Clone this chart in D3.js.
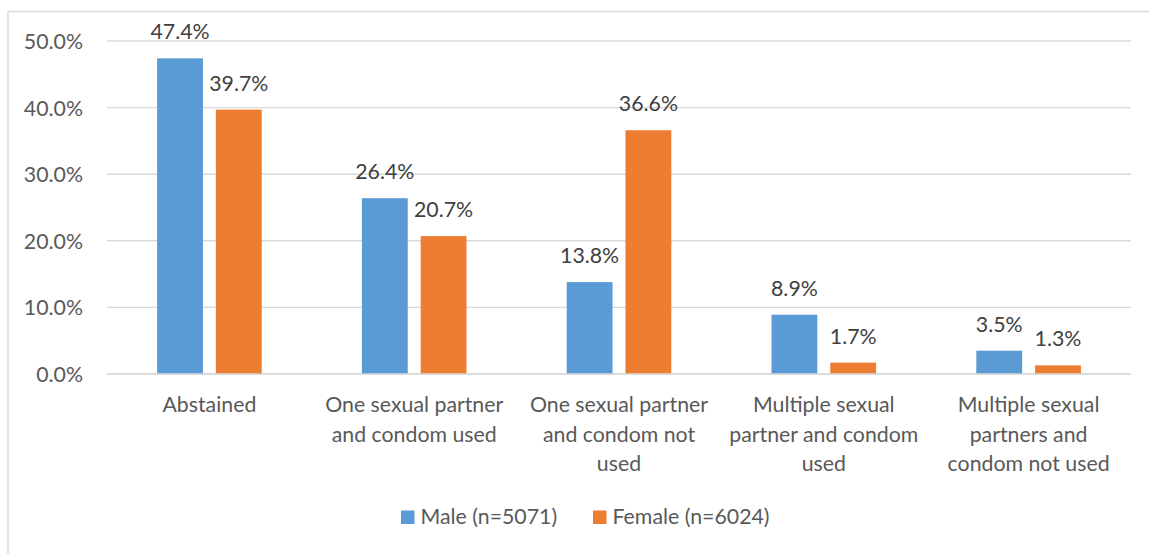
<!DOCTYPE html>
<html>
<head>
<meta charset="utf-8">
<script src="https://cdn.jsdelivr.net/npm/d3@7"></script>
<style>
  html, body { margin: 0; padding: 0; background: #fff; }
  svg { display: block; }
  text { font-family: Lato, "Open Sans", sans-serif; }
</style>
</head>
<body>
<svg id="chart" width="1149" height="554"></svg>
<script>
// Sexual behaviour by sex, percentages
const categories = [
  "Abstained",
  "One sexual partner|and condom used",
  "One sexual partner|and condom not|used",
  "Multiple sexual|partner and condom|used",
  "Multiple sexual|partners and|condom not used"
];
const seriesNames = ["Male (n=5071)", "Female (n=6024)"];
const maleValues = [47.4, 26.4, 13.8, 8.9, 3.5];
const femaleValues = [39.7, 20.7, 36.6, 1.7, 1.3];
const yTicks = [0, 10, 20, 30, 40, 50];
const colors = ["#5b9bd5", "#ed7d31"];

const FONT = "21.3px";
const svg = d3.select("#chart");

// Outer frame of the chart area
svg.append("rect")
  .attr("x", 8).attr("y", 11.5)
  .attr("width", 1160).attr("height", 600)
  .attr("fill", "none")
  .attr("stroke", "#d9d9d9")
  .attr("stroke-width", 1.5);

const plot = { left: 107, right: 1131, top: 41, bottom: 374 };

const x0 = d3.scaleBand()
  .domain(categories)
  .range([plot.left, plot.right])
  .padding(0);

const x1 = d3.scaleBand()
  .domain(seriesNames)
  .range([50.1, x0.bandwidth() - 50.1])
  .paddingInner(0.22)
  .paddingOuter(0);

const y = d3.scaleLinear()
  .domain([0, 50])
  .range([plot.bottom, plot.top]);

// Gridlines
svg.append("g")
  .selectAll("line")
  .data(yTicks)
  .join("line")
  .attr("x1", plot.left).attr("x2", plot.right)
  .attr("y1", d => y(d)).attr("y2", d => y(d))
  .attr("stroke", "#d9d9d9")
  .attr("stroke-width", 1.4);

// Y axis labels
const yAxis = d3.axisLeft(y).tickValues(yTicks).tickSize(0).tickPadding(0)
  .tickFormat(d => d.toFixed(1) + "%");
const yg = svg.append("g").attr("transform", `translate(83,0)`).call(yAxis);
yg.select(".domain").remove();
yg.selectAll("text")
  .attr("font-size", FONT)
  .attr("fill", "#595959")
  .attr("dy", "0.35em")
  .style("font-family", "Lato, 'Open Sans', sans-serif");

// Bars
const rows = categories.map((c, i) => ({ cat: c, values: [maleValues[i], femaleValues[i]] }));

const groups = svg.append("g")
  .selectAll("g")
  .data(rows)
  .join("g")
  .attr("transform", d => `translate(${x0(d.cat)},0)`);

groups.selectAll("rect")
  .data(d => d.values.map((v, j) => ({ name: seriesNames[j], v, j })))
  .join("rect")
  .attr("x", d => x1(d.name))
  .attr("width", x1.bandwidth())
  .attr("y", d => y(d.v))
  .attr("height", d => y(0) - y(d.v))
  .attr("fill", d => colors[d.j]);

// Value labels
groups.selectAll("text.val")
  .data(d => d.values.map((v, j) => ({ name: seriesNames[j], v, j })))
  .join("text")
  .attr("class", "val")
  .attr("x", d => x1(d.name) + x1.bandwidth() / 2)
  .attr("y", d => y(d.v) - 19)
  .attr("text-anchor", "middle")
  .attr("font-size", FONT)
  .attr("fill", "#404040")
  .text(d => d.v.toFixed(1) + "%");

// Zero baseline
svg.append("line")
  .attr("x1", plot.left).attr("x2", plot.right)
  .attr("y1", y(0)).attr("y2", y(0))
  .attr("stroke", "#d9d9d9")
  .attr("stroke-width", 1.6);

// Category labels
const catLabels = svg.append("g")
  .selectAll("text")
  .data(categories)
  .join("text")
  .attr("x", d => x0(d) + x0.bandwidth() / 2)
  .attr("y", 412)
  .attr("text-anchor", "middle")
  .attr("font-size", FONT)
  .attr("fill", "#595959");

catLabels.selectAll("tspan")
  .data(d => d.split("|"))
  .join("tspan")
  .attr("x", function () { return d3.select(this.parentNode).attr("x"); })
  .attr("dy", (d, i) => i === 0 ? 0 : 29.5)
  .text(d => d);

// Legend
const legendPos = [401, 593];
const legend = svg.append("g")
  .selectAll("g")
  .data(seriesNames)
  .join("g")
  .attr("transform", (d, i) => `translate(${legendPos[i]},0)`);

legend.append("rect")
  .attr("x", 0).attr("y", 510.5)
  .attr("width", 13.5).attr("height", 13.5)
  .attr("fill", (d, i) => colors[i]);

legend.append("text")
  .attr("x", 19.5).attr("y", 524)
  .attr("font-size", FONT)
  .attr("fill", "#595959")
  .text(d => d);
</script>
</body>
</html>
